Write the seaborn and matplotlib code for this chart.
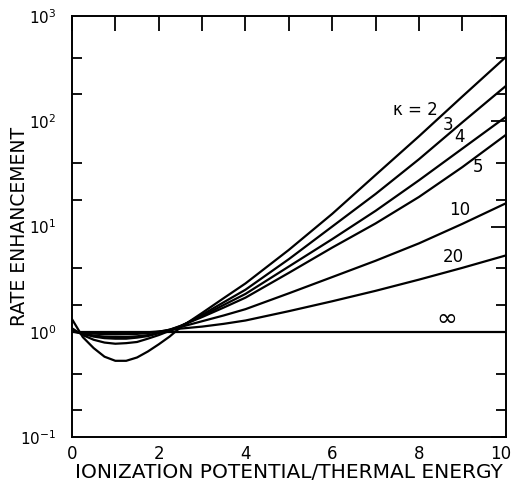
import numpy as np
import pandas as pd
import matplotlib
matplotlib.use("Agg")
import matplotlib.pyplot as plt
import matplotlib.ticker as mticker
import matplotlib.transforms as mtransforms
import seaborn as sns

# ---- data ----
x_vals = [0, 0.25, 0.5, 0.75, 1, 1.25, 1.5, 1.75, 2, 2.25, 2.5, 3, 3.5, 4, 5, 6, 7, 8, 9, 10]
k2 = [1.32, 0.89, 0.70, 0.58, 0.53, 0.53, 0.57, 0.65, 0.76, 0.90, 1.10, 1.51, 2.09, 2.88, 6.0, 13.2, 30.9, 72, 172, 407]
k3 = [1.08, 0.93, 0.84, 0.79, 0.77, 0.78, 0.80, 0.86, 0.93, 1.02, 1.12, 1.45, 1.91, 2.51, 4.9, 10.0, 20.4, 43.6, 97.7, 216]
k4 = [1.03, 0.955, 0.90, 0.87, 0.86, 0.86, 0.88, 0.91, 0.97, 1.035, 1.135, 1.41, 1.80, 2.29, 4.17, 7.59, 14.1, 27.5, 55.0, 110]
k5 = [1.01, 0.966, 0.92, 0.90, 0.89, 0.89, 0.906, 0.93, 0.977, 1.047, 1.135, 1.38, 1.70, 2.11, 3.63, 6.31, 10.7, 19.1, 36.7, 74.1]
k10 = [1.0, 0.977, 0.96, 0.95, 0.944, 0.946, 0.955, 0.973, 1.0, 1.047, 1.109, 1.26, 1.43, 1.64, 2.32, 3.31, 4.73, 6.92, 10.6, 16.6]
k20 = [1.0, 0.989, 0.98, 0.975, 0.973, 0.975, 0.98, 0.989, 1.007, 1.035, 1.072, 1.12, 1.19, 1.28, 1.57, 1.95, 2.45, 3.13, 4.05, 5.31]
kinf = [1.0] * len(x_vals)

series_names = ["2", "3", "4", "5", "10", "20", "inf"]
series_vals = [k2, k3, k4, k5, k10, k20, kinf]

label_texts = ["κ = 2", "3", "4", "5", "10", "20", "∞"]
label_x = [7.92, 8.66, 8.94, 9.35, 8.94, 8.78, 8.64]
label_y = [128, 92, 71, 36.8, 14.4, 5.1, 1.32]
label_sizes = [12, 12, 12, 12, 12, 12, 18]

xticks_major = [0, 1, 2, 3, 4, 5, 6, 7, 8, 9, 10]
xtick_labels = ["0", "", "2", "", "4", "", "6", "", "8", "", "10"]
yticks_major = [1e-1, 1e0, 1e1, 1e2, 1e3]
ytick_labels = [r"$10^{-1}$", r"$10^{0}$", r"$10^{1}$", r"$10^{2}$", r"$10^{3}$"]

rows = []
for name, vals in zip(series_names, series_vals):
    for xv, yv in zip(x_vals, vals):
        rows.append({"x": xv, "y": yv, "kappa": name})
df = pd.DataFrame(rows)

sns.set_style("white")
plt.rcParams["font.family"] = ["DejaVu Sans"]
plt.rcParams["text.color"] = "black"
plt.rcParams["axes.labelcolor"] = "black"
plt.rcParams["xtick.color"] = "black"
plt.rcParams["ytick.color"] = "black"

fig = plt.figure(figsize=(5.14, 4.84), dpi=100)
ax = fig.add_axes([0.140, 0.097, 0.844, 0.870])

sns.lineplot(data=df, x="x", y="y", hue="kappa", palette=["black"] * 7,
             linewidth=1.6, legend=False, ax=ax, sort=False, estimator=None)

ax.set_yscale("log")
ax.set_xlim(0, 10)
ax.set_ylim(1e-1, 1e3)

ax.set_xticks(xticks_major)
ax.set_xticklabels(xtick_labels)
ax.set_yticks(yticks_major)
ax.set_yticklabels(ytick_labels)
ax.yaxis.set_minor_locator(mticker.FixedLocator(
    [m * 10.0 ** e for e in range(-1, 3) for m in (1.8, 4.0)]))
ax.yaxis.set_minor_formatter(mticker.NullFormatter())

ax.tick_params(axis="both", which="major", direction="in", length=11, width=1.3,
               top=True, right=True, color="black", labelcolor="black")
ax.tick_params(axis="y", which="minor", direction="in", length=7, width=1.3,
               left=True, right=True, color="black")
ax.tick_params(axis="x", which="major", labelsize=12, pad=6)
ax.tick_params(axis="y", which="major", labelsize=11, pad=11)

# nudge the last x tick label so it stays inside the canvas
last = ax.get_xticklabels()[-1]
last.set_transform(last.get_transform() +
                   mtransforms.ScaledTranslation(-5 / 100, 0, fig.dpi_scale_trans))

for sp in ax.spines.values():
    sp.set_color("black")
    sp.set_linewidth(1.4)

ax.set_xlabel("IONIZATION POTENTIAL/THERMAL ENERGY", fontsize=14.5, labelpad=0, color="black")
ax.set_ylabel("RATE ENHANCEMENT", fontsize=13.5, color="black")
ax.yaxis.set_label_coords(-0.1, 0.5)

for t, xx, yy, fs in zip(label_texts, label_x, label_y, label_sizes):
    ax.text(xx, yy, t, fontsize=fs, ha="center", va="center", color="black")

fig.savefig("out.png", dpi=100)
